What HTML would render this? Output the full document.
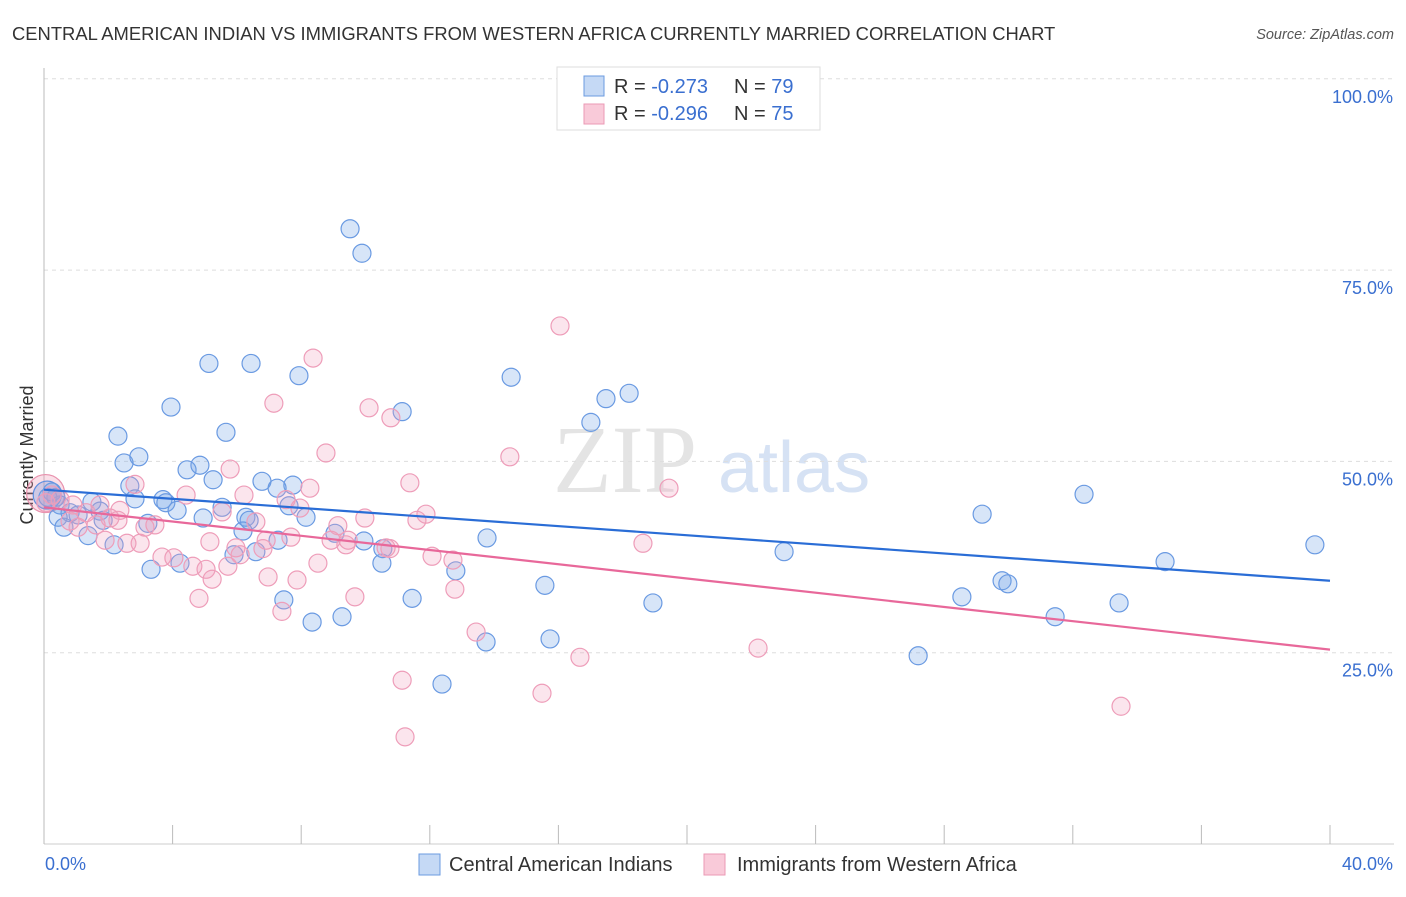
<!DOCTYPE html>
<html><head><meta charset="utf-8"><style>
body{margin:0;background:#fff;font-family:"Liberation Sans",sans-serif}
svg text{font-family:"Liberation Sans",sans-serif}
</style></head><body>
<svg id="chart" width="1406" height="892" viewBox="0 0 1406 892">
<text x="12" y="40" font-size="18.4" fill="#333">CENTRAL AMERICAN INDIAN VS IMMIGRANTS FROM WESTERN AFRICA CURRENTLY MARRIED CORRELATION CHART</text>
<text x="1394" y="39" font-size="14.5" fill="#555" font-style="italic" text-anchor="end">Source: ZipAtlas.com</text>
<g>
<text x="553" y="492" font-size="96" fill="#e4e4e4" font-family="Liberation Serif" style="font-family:'Liberation Serif',serif">ZIP</text>
<text x="718" y="492" font-size="72" fill="#d6e2f4">atlas</text>
</g>
<g id="grid"></g>
<line x1="44" y1="68" x2="44" y2="844" stroke="#bbb"/>
<line x1="44" y1="844" x2="1394" y2="844" stroke="#ccc"/>
<g id="xticks"></g>
<text transform="translate(33,455) rotate(-90)" font-size="18" fill="#333" text-anchor="middle">Currently Married</text>
<text x="45" y="870" font-size="18" fill="#3a6fd0">0.0%</text>
<text x="1393" y="870" font-size="18" fill="#3a6fd0" text-anchor="end">40.0%</text>
<g id="points"></g>
<g id="lines"></g>
<g>
<rect x="557" y="67" width="263" height="63" fill="#fff" stroke="#ddd"/>
<rect x="584" y="76" width="20" height="20" fill="#c5d9f5" stroke="#6b9be0"/>
<rect x="584" y="104" width="20" height="20" fill="#f9cad9" stroke="#eb9ab5"/>
<text x="614" y="93" font-size="20" fill="#333">R = <tspan fill="#3a6fd0">-0.273</tspan></text>
<text x="734" y="93" font-size="20" fill="#333">N = <tspan fill="#3a6fd0">79</tspan></text>
<text x="614" y="120" font-size="20" fill="#333">R = <tspan fill="#3a6fd0">-0.296</tspan></text>
<text x="734" y="120" font-size="20" fill="#333">N = <tspan fill="#3a6fd0">75</tspan></text>
</g>
<g>
<rect x="419" y="854" width="21" height="21" fill="#c5d9f5" stroke="#6b9be0"/>
<text x="449" y="871" font-size="20" fill="#333">Central American Indians</text>
<rect x="704" y="854" width="21" height="21" fill="#f9cad9" stroke="#eb9ab5"/>
<text x="737" y="871" font-size="20" fill="#333">Immigrants from Western Africa</text>
</g>
</svg>
<script>
const yTicks=[25,50,75,100];
const yTickLabels=["25.0%","50.0%","75.0%","100.0%"];
const xTickVals=[0,4,8,12,16,20,24,28,32,36,40];
const blueX=[9.52,9.89,5.13,6.44,7.93,14.53,18.20,17.48,11.14,3.95,2.30,5.66,17.01,2.49,2.95,4.45,4.85,5.26,6.78,7.74,7.25,2.67,3.70,3.79,1.49,2.83,0.37,0.50,0.81,1.74,1.84,0.44,0.62,1.37,2.18,3.23,4.14,4.95,5.54,6.28,6.38,6.19,7.28,8.15,7.62,9.05,9.95,10.54,10.51,12.81,13.78,5.91,6.59,3.33,4.23,7.46,8.34,9.27,11.45,13.75,15.58,15.74,18.94,12.38,23.02,27.19,28.55,29.18,29.80,29.98,31.45,32.35,33.44,34.87,39.53,0.12,0.25,1.06];
const blueY=[80.4,77.2,62.8,62.8,61.2,61.0,58.9,58.2,56.5,57.1,53.3,53.8,55.1,49.8,50.6,48.9,49.5,47.6,47.4,46.9,46.5,46.8,45.0,44.6,44.7,45.1,45.3,44.3,43.3,43.5,42.3,42.7,41.4,40.3,39.1,41.9,43.6,42.6,44.0,42.7,42.3,40.9,39.7,42.7,44.2,40.6,39.6,38.6,36.7,35.7,40.0,37.8,38.2,35.9,36.7,31.9,29.0,29.7,32.1,26.4,33.8,26.8,31.5,20.9,38.2,24.6,32.3,43.1,34.4,34.0,29.7,45.7,31.5,36.9,39.1,45.3,46.0,43.0];
const pinkX=[16.05,8.37,7.15,10.11,10.79,8.77,14.49,5.79,11.38,2.83,4.42,6.22,8.27,7.53,19.44,0.25,0.50,0.90,1.74,1.31,2.05,2.36,3.14,3.45,5.54,6.59,7.96,9.14,9.98,11.88,11.60,7.68,8.93,9.39,10.76,1.90,2.58,2.99,3.67,4.04,4.63,5.16,5.04,5.72,5.23,6.10,6.81,6.97,7.87,8.52,9.67,12.07,12.72,12.78,13.44,4.82,7.40,16.67,18.63,22.21,11.14,15.49,11.23,33.50,0.06,0.81,1.06,1.62,2.30,5.97,10.64,9.46,6.91];
const pinkY=[67.7,63.5,57.6,57.0,55.7,51.1,50.6,49.0,47.2,47.0,45.6,45.6,46.5,45.0,46.5,45.6,45.0,44.3,44.3,43.3,42.6,43.6,41.4,41.7,43.4,42.1,43.9,41.6,42.6,43.1,42.3,40.1,39.7,39.1,38.6,39.7,39.3,39.3,37.5,37.4,36.3,39.5,35.9,36.3,34.6,37.8,38.6,34.9,34.5,36.7,32.3,37.6,37.1,33.3,27.7,32.1,30.4,24.4,39.3,25.6,21.4,19.7,14.0,18.0,44.6,42.2,41.4,41.7,42.3,38.7,38.7,39.7,39.7];
const blueTrend=[46.3,34.4];
const pinkTrend=[44.0,25.4];
const NS="http://www.w3.org/2000/svg";
const sx=v=>44+v*32.15;
const sy=v=>844-v*7.652;
function mk(tag,attrs,parent){const e=document.createElementNS(NS,tag);for(const k in attrs)e.setAttribute(k,attrs[k]);parent.appendChild(e);return e;}
const grid=document.getElementById('grid');
yTicks.forEach((t,i)=>{
  const l=mk('line',{x1:44,x2:1394,y1:sy(t),y2:sy(t),stroke:'#ddd','stroke-dasharray':'4,4'},grid);
  
  
  const tx=mk('text',{x:1393,y:sy(t)+24,'font-size':18,fill:'#3a6fd0','text-anchor':'end'},grid);
  tx.textContent=yTickLabels[i];
  
  
});
const xt=document.getElementById('xticks');
xTickVals.forEach(v=>{
  const l=mk('line',{x1:sx(v),x2:sx(v),y1:825,y2:844,stroke:'#bbb'},xt);
  
  
});
const pts=document.getElementById('points');
function big(x,y,fill,stroke,r){const c=mk('circle',{cx:sx(x),cy:sy(y),r:r,fill:fill,stroke:stroke,'stroke-width':1.2},pts);

}
big(0.05,45.8,'rgba(240,150,180,0.3)','#e891ad',19);
big(0.1,45.6,'rgba(110,150,220,0.3)','#5b8ee0',14);
blueX.forEach((x,i)=>{
  const c=mk('circle',{cx:sx(x),cy:sy(blueY[i]),r:9,fill:'rgba(110,160,230,0.28)',stroke:'#6a9ae2','stroke-width':1.2},pts);
  
  
});
pinkX.forEach((x,i)=>{
  const c=mk('circle',{cx:sx(x),cy:sy(pinkY[i]),r:9,fill:'rgba(242,160,190,0.28)',stroke:'#ee9db9','stroke-width':1.2},pts);
  
  
});
const ln=document.getElementById('lines');
const b=mk('line',{x1:sx(0),x2:sx(40),y1:sy(blueTrend[0]),y2:sy(blueTrend[1]),stroke:'#2a6dd6','stroke-width':2.2},ln);


const p=mk('line',{x1:sx(0),x2:sx(40),y1:sy(pinkTrend[0]),y2:sy(pinkTrend[1]),stroke:'#e8689a','stroke-width':2.2},ln);


</script>
</body></html>
